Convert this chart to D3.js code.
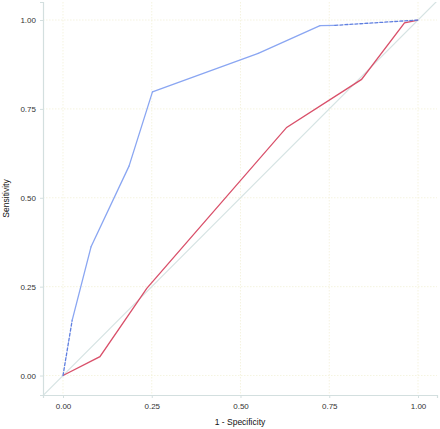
<!DOCTYPE html>
<html><head><meta charset="utf-8">
<script src="https://cdn.jsdelivr.net/npm/d3@7"></script>
<style>body{margin:0;background:#fff;}svg{display:block;}</style>
</head><body>
<svg id="c" width="440" height="429"></svg>
<script>
const ticks = [0, 0.25, 0.5, 0.75, 1];
const tickLabels = ["0.00", "0.25", "0.50", "0.75", "1.00"];
const blueFpr = [0, 0.026, 0.079, 0.186, 0.252, 0.55, 0.724, 0.766, 1];
const blueTpr = [0, 0.156, 0.362, 0.589, 0.798, 0.906, 0.984, 0.985, 1];
const blueDashedSegments = [0, 7];
const redFpr = [0, 0.104, 0.236, 0.63, 0.841, 0.962, 1];
const redTpr = [0, 0.053, 0.245, 0.698, 0.833, 0.992, 1];
const xTitle = "1 - Specificity";
const yTitle = "Sensitivity";

const svg = d3.select("#c");
const x = d3.scaleLinear().domain([-0.0563, 1.0535]).range([43, 437]);
const y = d3.scaleLinear().domain([-0.0548, 1.0507]).range([395, 2]);
const [x0, x1] = x.range(), [y0, y1] = y.range();

const clip = svg.append("clipPath").attr("id", "pc").append("rect")
  .attr("x", x0).attr("y", y1).attr("width", x1 - x0).attr("height", y0 - y1);

// grid
const grid = svg.append("g");
ticks.forEach(t => {
  grid.append("line").attr("x1", x(t)).attr("x2", x(t)).attr("y1", y1).attr("y2", y0)
    .attr("stroke", "#f3f0d8").attr("stroke-width", 0.8).attr("stroke-dasharray", "1.5,1.5");
  grid.append("line").attr("y1", y(t)).attr("y2", y(t)).attr("x1", x0).attr("x2", x1)
    .attr("stroke", "#f3f0d8").attr("stroke-width", 0.8).attr("stroke-dasharray", "1.5,1.5");
});

// axes
const axisColor = "#d3dfdf";
const xAxis = svg.append("g").attr("transform", `translate(0,${y0})`)
  .call(d3.axisBottom(x).tickValues(ticks).tickFormat((d, i) => tickLabels[i]).tickSize(3).tickPadding(5));
const yAxis = svg.append("g").attr("transform", `translate(${x0},0)`)
  .call(d3.axisLeft(y).tickValues(ticks).tickFormat((d, i) => tickLabels[i]).tickSize(3).tickPadding(4));
[xAxis, yAxis].forEach(a => {
  a.select(".domain").attr("stroke", axisColor).attr("stroke-width", 1.2);
  a.selectAll(".tick line").attr("stroke", axisColor);
  a.selectAll(".tick text").attr("fill", "#333").style("font-family", "Liberation Sans, Arial, sans-serif").style("font-size", "8px");
});

// diagonal
const plot = svg.append("g").attr("clip-path", "url(#pc)");
plot.append("line")
  .attr("x1", x(x.domain()[0])).attr("y1", y(x.domain()[0]))
  .attr("x2", x(x.domain()[1])).attr("y2", y(x.domain()[1]))
  .attr("stroke", "#d6e3e3").attr("stroke-width", 1.2);

const line = d3.line().x(d => x(d[0])).y(d => y(d[1]));
const redPts = redFpr.map((v, i) => [v, redTpr[i]]);
plot.append("path").attr("d", line(redPts)).attr("fill", "none")
  .attr("stroke", "#d9506a").attr("stroke-width", 1.3);

const bluePts = blueFpr.map((v, i) => [v, blueTpr[i]]);
for (let i = 0; i < bluePts.length - 1; i++) {
  const dashed = blueDashedSegments.includes(i);
  plot.append("path").attr("d", line([bluePts[i], bluePts[i + 1]])).attr("fill", "none")
    .attr("stroke", dashed ? "#5f7fe0" : "#8aa6f2").attr("stroke-width", 1.3)
    .attr("stroke-dasharray", dashed ? "3,2" : null).attr("stroke-linecap", "round");
}

// titles
svg.append("text").attr("x", (x0 + x1) / 2).attr("y", 425).attr("text-anchor", "middle")
  .style("font-family", "Liberation Sans, Arial, sans-serif").style("font-size", "8.5px").attr("fill", "#111").text(xTitle);
svg.append("text").attr("transform", `translate(9,${(y0 + y1) / 2}) rotate(-90)`).attr("text-anchor", "middle")
  .style("font-family", "Liberation Sans, Arial, sans-serif").style("font-size", "8.5px").attr("fill", "#111").text(yTitle);
</script>
</body></html>
